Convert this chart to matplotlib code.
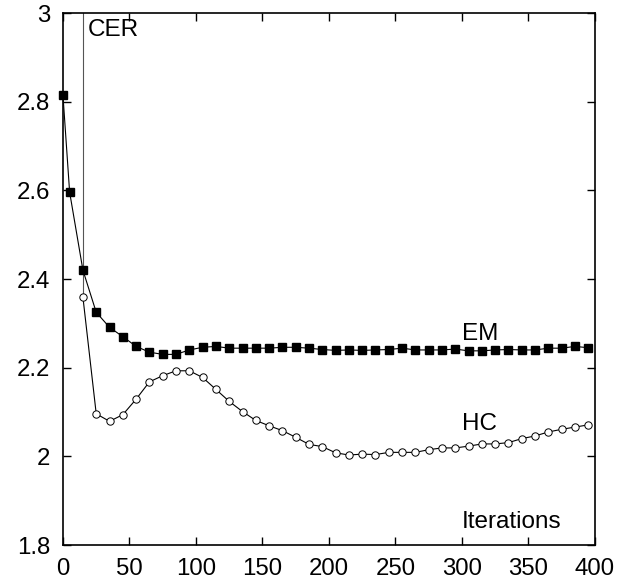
import matplotlib
matplotlib.use("Agg")
import matplotlib.pyplot as plt
from matplotlib.ticker import FuncFormatter

plt.rcParams['font.family'] = ['Liberation Sans', 'DejaVu Sans']

em_x = [0, 5, 15, 25, 35, 45, 55, 65, 75, 85, 95, 105, 115, 125, 135, 145, 155,
        165, 175, 185, 195, 205, 215, 225, 235, 245, 255, 265, 275, 285, 295,
        305, 315, 325, 335, 345, 355, 365, 375, 385, 395]
em_y = [2.814, 2.596, 2.420, 2.325, 2.291, 2.270, 2.248, 2.235, 2.230, 2.230,
        2.240, 2.246, 2.248, 2.244, 2.244, 2.244, 2.244, 2.246, 2.246, 2.244,
        2.241, 2.239, 2.240, 2.239, 2.240, 2.241, 2.244, 2.240, 2.240, 2.240,
        2.242, 2.238, 2.238, 2.240, 2.241, 2.240, 2.240, 2.244, 2.244, 2.248,
        2.245]

hc_x = [15, 25, 35, 45, 55, 65, 75, 85, 95, 105, 115, 125, 135, 145, 155,
        165, 175, 185, 195, 205, 215, 225, 235, 245, 255, 265, 275, 285, 295,
        305, 315, 325, 335, 345, 355, 365, 375, 385, 395]
hc_y = [2.359, 2.096, 2.079, 2.094, 2.129, 2.168, 2.182, 2.193, 2.193, 2.178,
        2.151, 2.124, 2.101, 2.081, 2.069, 2.058, 2.043, 2.027, 2.022, 2.008,
        2.003, 2.005, 2.004, 2.009, 2.009, 2.009, 2.015, 2.019, 2.019, 2.023,
        2.028, 2.028, 2.031, 2.040, 2.046, 2.055, 2.061, 2.066, 2.071]

cer_x = [15, 15]
cer_y = [3.5, 2.359]

x_ticks = [0, 50, 100, 150, 200, 250, 300, 350, 400]
y_ticks = [1.8, 2.0, 2.2, 2.4, 2.6, 2.8, 3.0]

fig = plt.figure(figsize=(6.31, 5.79), dpi=100)
ax = fig.add_axes([0.0998, 0.0587, 0.843, 0.9188])

ax.plot(cer_x, cer_y, color='#555555', lw=0.8, clip_on=True)
ax.plot(em_x, em_y, color='black', lw=0.8, marker='s', markersize=5.2,
        markerfacecolor='black', markeredgecolor='black', clip_on=False, zorder=3)
ax.plot(hc_x, hc_y, color='black', lw=0.8, marker='o', markersize=5.3,
        markerfacecolor='white', markeredgecolor='black', markeredgewidth=0.7,
        clip_on=False, zorder=3)

ax.set_xlim(0, 400)
ax.set_ylim(1.8, 3.0)
ax.set_xticks(x_ticks)
ax.set_yticks(y_ticks)
ax.yaxis.set_major_formatter(FuncFormatter(lambda v, p: '%g' % round(v, 2)))
ax.tick_params(direction='in', length=5.5, width=1.0, top=True, right=True,
               labelsize=17.3, pad=9)
for s in ax.spines.values():
    s.set_linewidth(1.2)

ax.text(19, 2.962, 'CER', fontsize=17.5, va='center', ha='left')
ax.text(300, 2.275, 'EM', fontsize=17.5, va='center', ha='left')
ax.text(300, 2.073, 'HC', fontsize=17.5, va='center', ha='left')
ax.text(300, 1.851, 'Iterations', fontsize=17.5, va='center', ha='left')

fig.savefig('out.png', dpi=100)
